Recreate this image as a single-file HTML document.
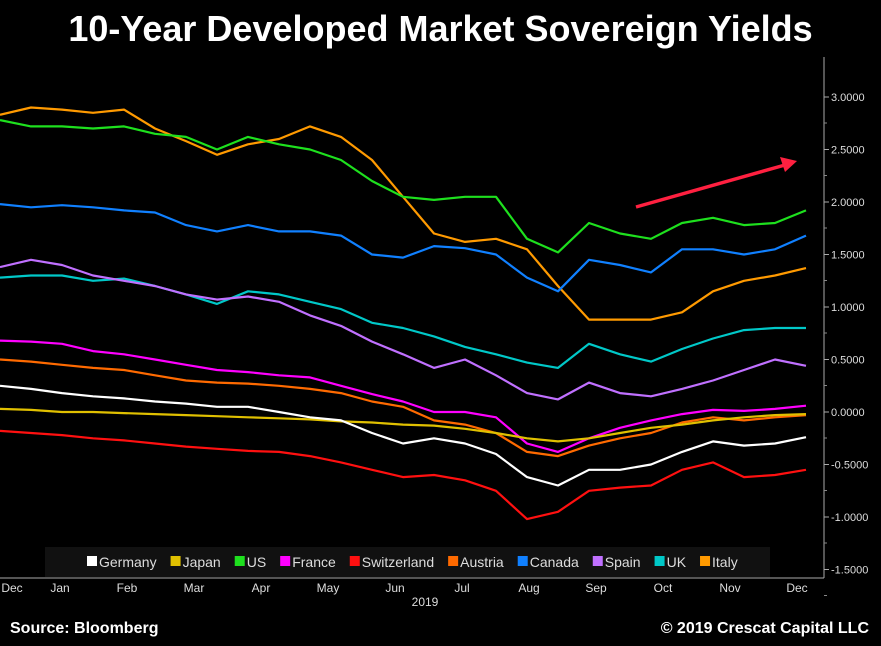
<!DOCTYPE html>
<html><head><meta charset="utf-8"><style>
body{margin:0;background:#000;width:881px;height:646px;overflow:hidden;font-family:"Liberation Sans",sans-serif}
#t{position:absolute;left:0;top:8px;width:881px;text-align:center;color:#fff;font-weight:bold;font-size:36px}
.f{position:absolute;top:620px;color:#fff;font-weight:bold;font-size:16px}
</style></head><body>
<div id="t">10-Year Developed Market Sovereign Yields</div>
<svg id="c" width="881" height="646" style="position:absolute;left:0;top:0"></svg>
<div class="f" style="left:10px">Source: Bloomberg</div>
<div class="f" style="right:12px">© 2019 Crescat Capital LLC</div>
<script>
const names=["Germany","Japan","US","France","Switzerland","Austria","Canada","Spain","UK","Italy"];
const colors=["#ffffff","#e0c000","#1ee01e","#ff00ff","#ff1010","#ff6a00","#1080ff","#c070ff","#00c8c8","#ff9a00"];
const germany=[0.25,0.22,0.18,0.15,0.13,0.1,0.08,0.05,0.05,0.0,-0.05,-0.08,-0.2,-0.3,-0.25,-0.3,-0.4,-0.62,-0.7,-0.55,-0.55,-0.5,-0.38,-0.28,-0.32,-0.3,-0.24];
const japan=[0.03,0.02,0.0,0.0,-0.01,-0.02,-0.03,-0.04,-0.05,-0.06,-0.07,-0.09,-0.1,-0.12,-0.13,-0.16,-0.2,-0.25,-0.28,-0.25,-0.2,-0.15,-0.12,-0.08,-0.05,-0.03,-0.02];
const us=[2.78,2.72,2.72,2.7,2.72,2.65,2.62,2.5,2.62,2.55,2.5,2.4,2.2,2.05,2.02,2.05,2.05,1.65,1.52,1.8,1.7,1.65,1.8,1.85,1.78,1.8,1.92];
const france=[0.68,0.67,0.65,0.58,0.55,0.5,0.45,0.4,0.38,0.35,0.33,0.25,0.17,0.1,0.0,0.0,-0.05,-0.3,-0.38,-0.25,-0.15,-0.08,-0.02,0.02,0.01,0.03,0.06];
const switzerland=[-0.18,-0.2,-0.22,-0.25,-0.27,-0.3,-0.33,-0.35,-0.37,-0.38,-0.42,-0.48,-0.55,-0.62,-0.6,-0.65,-0.75,-1.02,-0.95,-0.75,-0.72,-0.7,-0.55,-0.48,-0.62,-0.6,-0.55];
const austria=[0.5,0.48,0.45,0.42,0.4,0.35,0.3,0.28,0.27,0.25,0.22,0.18,0.1,0.05,-0.08,-0.12,-0.2,-0.38,-0.42,-0.32,-0.25,-0.2,-0.1,-0.05,-0.08,-0.05,-0.03];
const canada=[1.98,1.95,1.97,1.95,1.92,1.9,1.78,1.72,1.78,1.72,1.72,1.68,1.5,1.47,1.58,1.56,1.5,1.28,1.15,1.45,1.4,1.33,1.55,1.55,1.5,1.55,1.68];
const spain=[1.38,1.45,1.4,1.3,1.25,1.2,1.12,1.07,1.1,1.05,0.92,0.82,0.67,0.55,0.42,0.5,0.35,0.18,0.12,0.28,0.18,0.15,0.22,0.3,0.4,0.5,0.44];
const uk=[1.28,1.3,1.3,1.25,1.27,1.2,1.12,1.03,1.15,1.12,1.05,0.98,0.85,0.8,0.72,0.62,0.55,0.47,0.42,0.65,0.55,0.48,0.6,0.7,0.78,0.8,0.8];
const italy=[2.83,2.9,2.88,2.85,2.88,2.7,2.58,2.45,2.55,2.6,2.72,2.62,2.4,2.05,1.7,1.62,1.65,1.55,1.2,0.88,0.88,0.88,0.95,1.15,1.25,1.3,1.37];
const yTicks=[3,2.5,2,1.5,1,0.5,0,-0.5,-1,-1.5];
const months=["Dec","Jan","Feb","Mar","Apr","May","Jun","Jul","Aug","Sep","Oct","Nov","Dec"];
const series=[germany,japan,us,france,switzerland,austria,canada,spain,uk,italy];
const drawOrder=[9,2,6,8,7,5,3,1,0,4];
const NS="http://www.w3.org/2000/svg",svg=document.getElementById('c');
const X0=0,X1=806,AX=824;
const x=i=>X0+(X1-X0)*i/(us.length-1);
const y=v=>412-105*v;
const mx=i=>i===0?12:60+(797-60)*(i-1)/(months.length-2);
function mk(t,a,p){const e=document.createElementNS(NS,t);for(const k in a)e.setAttribute(k,a[k]);(p||svg).appendChild(e);return e;}
const axis=mk('line',{x1:AX,y1:57,x2:AX,y2:578,stroke:'#aaa','stroke-width':1});


mk('line',{x1:0,y1:578,x2:AX,y2:578,stroke:'#aaa','stroke-width':1});
yTicks.forEach(v=>{
 mk('line',{x1:AX,y1:y(v),x2:AX+5,y2:y(v),stroke:'#aaa'});
 mk('line',{x1:AX,y1:y(v)+26,x2:AX+3,y2:y(v)+26,stroke:'#888'});
 const t=mk('text',{x:AX+7,y:y(v)+4,fill:'#ddd','font-size':11});
 t.textContent=(v<0?'-':'')+Math.abs(v).toFixed(4);
 
 
});
months.forEach((m,i)=>{
 const t=mk('text',{x:mx(i),y:592,fill:'#ddd','font-size':12,'text-anchor':'middle'});
 t.textContent=m;
 
 
});
const yr=mk('text',{x:425,y:606,fill:'#ddd','font-size':12,'text-anchor':'middle'});yr.textContent='2019';


drawOrder.forEach(k=>{
 const d=series[k].map((v,i)=>(i?'L':'M')+x(i).toFixed(1)+','+y(v).toFixed(1)).join('');
 const p=mk('path',{d:d,fill:'none',stroke:colors[k],'stroke-width':2.2,'stroke-linejoin':'round'});
 
 
});
const ar=mk('g',{});


mk('line',{x1:636,y1:207,x2:785,y2:165,stroke:'#ff2040','stroke-width':3.5},ar);
mk('polygon',{points:'797,161 780,157 785,172',fill:'#ff2040'},ar);
const lg=mk('g',{});


mk('rect',{x:45,y:547,width:725,height:30,fill:'#111'},lg);
let lx=87;
names.forEach((n,k)=>{
 const g=mk('g',{},lg);
 
 
 mk('rect',{x:lx,y:556,width:10,height:10,fill:colors[k]},g);
 const t=mk('text',{x:lx+12,y:567,fill:'#ddd','font-size':14},g);t.textContent=n;
 lx+=12+t.getComputedTextLength()+14;
});
</script>
</body></html>
